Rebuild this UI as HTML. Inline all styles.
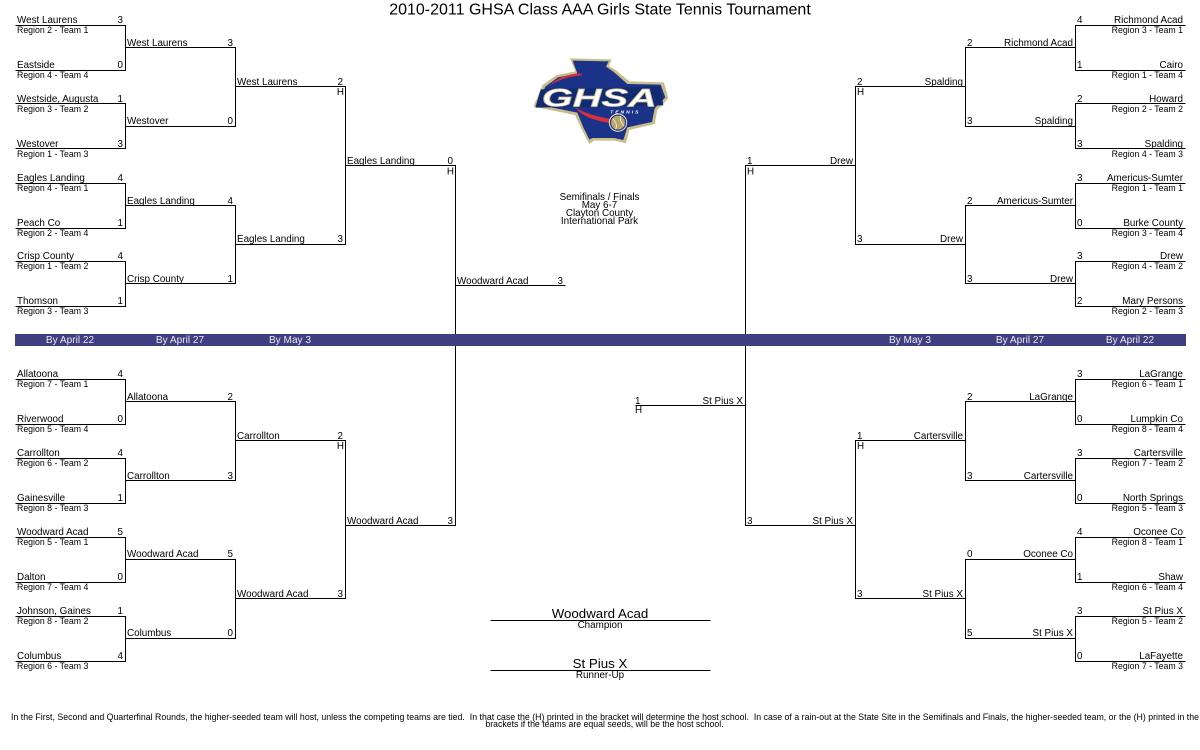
<!DOCTYPE html>
<html><head><meta charset="utf-8"><title>2010-2011 GHSA Class AAA Girls State Tennis Tournament</title>
<style>
html,body{margin:0;padding:0;background:#fff;width:1200px;height:750px;overflow:hidden}
svg{display:block}
text{font-family:"Liberation Sans",sans-serif;fill:#000;white-space:pre}
.t{font-size:9.85px}
.r{font-size:8.75px}
.e{text-anchor:end}
.m{text-anchor:middle}
.b{font-size:10.1px;fill:#e8e8f0;text-anchor:middle}
</style></head><body>
<svg width="1200" height="750" viewBox="0 0 1200 750" xmlns="http://www.w3.org/2000/svg">
<text x="600" y="14.5" class="m" style="font-size:16px">2010-2011 GHSA Class AAA Girls State Tennis Tournament</text>

<g transform="translate(.5,.5)" fill="none" stroke="#000" stroke-width="1" shape-rendering="crispEdges">
<path d="M15 25H125V70H15M15 103H125V148H15M15 183H125V228H15M15 261H125V306H15M15 379H125V424H15M15 458H125V503H15M15 537H125V582H15M15 616H125V661H15"/>
<path d="M125 47H235V126H125M125 205H235V283H125M125 401H235V480H125M125 559H235V638H125"/>
<path d="M235 86H345V244H235M235 440H345V598H235"/>
<path d="M345 165H455V525H345M455 285H565"/>
<path d="M1185 25H1075V70H1185M1185 103H1075V148H1185M1185 183H1075V228H1185M1185 261H1075V306H1185M1185 379H1075V424H1185M1185 458H1075V503H1185M1185 537H1075V582H1185M1185 616H1075V661H1185"/>
<path d="M1075 47H965V126H1075M1075 205H965V283H1075M1075 401H965V480H1075M1075 559H965V638H1075"/>
<path d="M965 86H855V244H965M965 440H855V598H965"/>
<path d="M855 165H745V525H855M745 405H635"/>
<path d="M490 620H710M490 670H710"/>
</g>
<rect x="15" y="334" width="1171" height="12" fill="#3f3f7f"/>
<g>
<text class="b" x="70" y="343">By April 22</text><text class="b" x="180" y="343">By April 27</text><text class="b" x="290" y="343">By May 3</text>
<text class="b" x="910" y="343">By May 3</text><text class="b" x="1020" y="343">By April 27</text><text class="b" x="1130" y="343">By April 22</text>
</g>

<!-- left round 1 -->
<g class="t">
<text x="17" y="23">West Laurens</text><text x="123" y="23" class="e">3</text>
<text x="17" y="68">Eastside</text><text x="123" y="68" class="e">0</text>
<text x="17" y="102">Westside, Augusta</text><text x="123" y="102" class="e">1</text>
<text x="17" y="147">Westover</text><text x="123" y="147" class="e">3</text>
<text x="17" y="181">Eagles Landing</text><text x="123" y="181" class="e">4</text>
<text x="17" y="226">Peach Co</text><text x="123" y="226" class="e">1</text>
<text x="17" y="259">Crisp County</text><text x="123" y="259" class="e">4</text>
<text x="17" y="304">Thomson</text><text x="123" y="304" class="e">1</text>
<text x="17" y="377">Allatoona</text><text x="123" y="377" class="e">4</text>
<text x="17" y="422">Riverwood</text><text x="123" y="422" class="e">0</text>
<text x="17" y="456">Carrollton</text><text x="123" y="456" class="e">4</text>
<text x="17" y="501">Gainesville</text><text x="123" y="501" class="e">1</text>
<text x="17" y="535">Woodward Acad</text><text x="123" y="535" class="e">5</text>
<text x="17" y="580">Dalton</text><text x="123" y="580" class="e">0</text>
<text x="17" y="614">Johnson, Gaines</text><text x="123" y="614" class="e">1</text>
<text x="17" y="659">Columbus</text><text x="123" y="659" class="e">4</text>
</g>
<g class="r">
<text x="17" y="33">Region 2 - Team 1</text><text x="17" y="78">Region 4 - Team 4</text><text x="17" y="112">Region 3 - Team 2</text><text x="17" y="157">Region 1 - Team 3</text>
<text x="17" y="191">Region 4 - Team 1</text><text x="17" y="236">Region 2 - Team 4</text><text x="17" y="269">Region 1 - Team 2</text><text x="17" y="314">Region 3 - Team 3</text>
<text x="17" y="387">Region 7 - Team 1</text><text x="17" y="432">Region 5 - Team 4</text><text x="17" y="466">Region 6 - Team 2</text><text x="17" y="511">Region 8 - Team 3</text>
<text x="17" y="545">Region 5 - Team 1</text><text x="17" y="590">Region 7 - Team 4</text><text x="17" y="624">Region 8 - Team 2</text><text x="17" y="669">Region 6 - Team 3</text>
</g>
<!-- left later rounds -->
<g class="t">
<text x="127" y="46">West Laurens</text><text x="233" y="46" class="e">3</text>
<text x="127" y="124">Westover</text><text x="233" y="124" class="e">0</text>
<text x="127" y="204">Eagles Landing</text><text x="233" y="204" class="e">4</text>
<text x="127" y="282">Crisp County</text><text x="233" y="282" class="e">1</text>
<text x="127" y="400">Allatoona</text><text x="233" y="400" class="e">2</text>
<text x="127" y="479">Carrollton</text><text x="233" y="479" class="e">3</text>
<text x="127" y="557">Woodward Acad</text><text x="233" y="557" class="e">5</text>
<text x="127" y="636">Columbus</text><text x="233" y="636" class="e">0</text>
<text x="237" y="85">West Laurens</text><text x="343" y="85" class="e">2</text><text x="344" y="95" class="e">H</text>
<text x="237" y="242">Eagles Landing</text><text x="343" y="242" class="e">3</text>
<text x="237" y="439">Carrollton</text><text x="343" y="439" class="e">2</text><text x="344" y="449" class="e">H</text>
<text x="237" y="597">Woodward Acad</text><text x="343" y="597" class="e">3</text>
<text x="347" y="164">Eagles Landing</text><text x="453" y="164" class="e">0</text><text x="454" y="174.5" class="e">H</text>
<text x="347" y="524">Woodward Acad</text><text x="453" y="524" class="e">3</text>
<text x="457" y="284">Woodward Acad</text><text x="563" y="284" class="e">3</text>
</g>
<!-- right round 1 -->
<g class="t">
<text x="1183" y="23" class="e">Richmond Acad</text><text x="1077" y="23">4</text>
<text x="1183" y="68" class="e">Cairo</text><text x="1077" y="68">1</text>
<text x="1183" y="102" class="e">Howard</text><text x="1077" y="102">2</text>
<text x="1183" y="147" class="e">Spalding</text><text x="1077" y="147">3</text>
<text x="1183" y="181" class="e">Americus-Sumter</text><text x="1077" y="181">3</text>
<text x="1183" y="226" class="e">Burke County</text><text x="1077" y="226">0</text>
<text x="1183" y="259" class="e">Drew</text><text x="1077" y="259">3</text>
<text x="1183" y="304" class="e">Mary Persons</text><text x="1077" y="304">2</text>
<text x="1183" y="377" class="e">LaGrange</text><text x="1077" y="377">3</text>
<text x="1183" y="422" class="e">Lumpkin Co</text><text x="1077" y="422">0</text>
<text x="1183" y="456" class="e">Cartersville</text><text x="1077" y="456">3</text>
<text x="1183" y="501" class="e">North Springs</text><text x="1077" y="501">0</text>
<text x="1183" y="535" class="e">Oconee Co</text><text x="1077" y="535">4</text>
<text x="1183" y="580" class="e">Shaw</text><text x="1077" y="580">1</text>
<text x="1183" y="614" class="e">St Pius X</text><text x="1077" y="614">3</text>
<text x="1183" y="659" class="e">LaFayette</text><text x="1077" y="659">0</text>
</g>
<g class="r e">
<text x="1183" y="33">Region 3 - Team 1</text><text x="1183" y="78">Region 1 - Team 4</text><text x="1183" y="112">Region 2 - Team 2</text><text x="1183" y="157">Region 4 - Team 3</text>
<text x="1183" y="191">Region 1 - Team 1</text><text x="1183" y="236">Region 3 - Team 4</text><text x="1183" y="269">Region 4 - Team 2</text><text x="1183" y="314">Region 2 - Team 3</text>
<text x="1183" y="387">Region 6 - Team 1</text><text x="1183" y="432">Region 8 - Team 4</text><text x="1183" y="466">Region 7 - Team 2</text><text x="1183" y="511">Region 5 - Team 3</text>
<text x="1183" y="545">Region 8 - Team 1</text><text x="1183" y="590">Region 6 - Team 4</text><text x="1183" y="624">Region 5 - Team 2</text><text x="1183" y="669">Region 7 - Team 3</text>
</g>
<!-- right later rounds -->
<g class="t">
<text x="1073" y="46" class="e">Richmond Acad</text><text x="967" y="46">2</text>
<text x="1073" y="124" class="e">Spalding</text><text x="967" y="124">3</text>
<text x="1073" y="204" class="e">Americus-Sumter</text><text x="967" y="204">2</text>
<text x="1073" y="282" class="e">Drew</text><text x="967" y="282">3</text>
<text x="1073" y="400" class="e">LaGrange</text><text x="967" y="400">2</text>
<text x="1073" y="479" class="e">Cartersville</text><text x="967" y="479">3</text>
<text x="1073" y="557" class="e">Oconee Co</text><text x="967" y="557">0</text>
<text x="1073" y="636" class="e">St Pius X</text><text x="967" y="636">5</text>
<text x="963" y="85" class="e">Spalding</text><text x="857" y="85">2</text><text x="857" y="95">H</text>
<text x="963" y="242" class="e">Drew</text><text x="857" y="242">3</text>
<text x="963" y="439" class="e">Cartersville</text><text x="857" y="439">1</text><text x="857" y="449">H</text>
<text x="963" y="597" class="e">St Pius X</text><text x="857" y="597">3</text>
<text x="853" y="164" class="e">Drew</text><text x="747" y="164">1</text><text x="747" y="174.5">H</text>
<text x="853" y="524" class="e">St Pius X</text><text x="747" y="524">3</text>
<text x="743" y="404" class="e">St Pius X</text><text x="635" y="404">1</text><text x="635" y="413">H</text>
</g>

<!-- centre -->
<g class="t m">
<text x="599.5" y="200">Semifinals / Finals</text>
<text x="599.5" y="208">May 6-7</text>
<text x="599.5" y="216">Clayton County</text>
<text x="599.5" y="224">International Park</text>
</g>
<text x="600" y="618" class="m" style="font-size:13.3px">Woodward Acad</text>
<text x="600" y="628" class="t m">Champion</text>
<text x="600" y="668" class="m" style="font-size:13.3px">St Pius X</text>
<text x="600" y="678" class="t m">Runner-Up</text>
<text x="11" y="720" class="r" textLength="1188" lengthAdjust="spacing">In the First, Second and Quarterfinal Rounds, the higher-seeded team will host, unless the competing teams are tied.  In that case the (H) printed in the bracket will determine the host school.  In case of a rain-out at the State Site in the Semifinals and Finals, the higher-seeded team, or the (H) printed in the</text>
<text x="604.5" y="727" class="r m">brackets if the teams are equal seeds, will be the host school.</text>

<!-- logo -->
<g transform="translate(500,40) scale(.3333)">
<path d="M210 55L335 58L327 78L347 90L388 124L492 127L505 175L472 210L464 252L388 270L378 310L345 302L282 302L268 312L245 268L225 225L100 200L128 135L170 105L226 94Z" fill="#c9bd8a"/>
<path d="M218 62L326 64L318 80L340 95L382 132L482 134L496 172L464 205L456 246L382 262L370 300L342 294L278 294L268 298L250 262L232 218L112 194L136 140L174 112L232 100Z" fill="#1a3388"/>
<path d="M145 142Q175 102 245 100L245 106Q195 110 165 128Q152 134 145 142Z" fill="#d8303c"/>
<path d="M226 202Q262 226 340 238L336 250Q250 238 226 202Z" fill="#d8303c"/>
<path d="M122 148L482 140L490 196L106 203Z" fill="#122a72"/>
<text x="298" y="199" text-anchor="middle" style="font-family:'Liberation Sans',sans-serif;font-size:76px;font-weight:bold;font-style:italic;fill:#fff;stroke:#c9bd8a;stroke-width:2" textLength="345" lengthAdjust="spacingAndGlyphs">GHSA</text>
<text x="376" y="221" text-anchor="middle" style="font-family:'Liberation Sans',sans-serif;font-size:15px;font-weight:bold;font-style:italic;fill:#fff;letter-spacing:6px">TENNIS</text>
<circle cx="354" cy="248" r="26" fill="#1a3388" stroke="#e8e2c4" stroke-width="3"/>
<circle cx="354" cy="248" r="21" fill="#b8a768"/>
<path d="M338 236Q354 251 347 268M362 228Q358 246 373 258" fill="none" stroke="#fff" stroke-width="2"/>
</g>
</svg>
</body></html>
